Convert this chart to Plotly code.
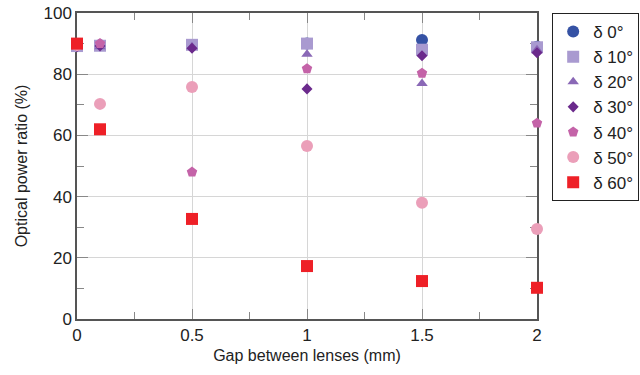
import plotly.graph_objects as go

# Gap between the lenses (mm)
gap_mm = [0, 0.1, 0.5, 1, 1.5, 2]

# Optical power ratio (%) for each tilt angle delta
ratio_d0 = [89.5, 89.5, 89.5, 90.0, 91.2, 89.0]
ratio_d10 = [89.2, 89.3, 89.6, 90.0, 88.0, 88.8]
ratio_d20 = [89.0, 89.0, 89.0, 86.5, 77.0, 88.0]
ratio_d30 = [89.0, 89.2, 88.5, 75.2, 86.0, 87.0]
ratio_d40 = [89.5, 90.0, 48.0, 81.8, 80.3, 64.0]
ratio_d50 = [89.5, 70.3, 75.8, 56.5, 38.0, 29.4]
ratio_d60 = [90.0, 62.0, 32.7, 17.3, 12.4, 10.2]

series_names = ["δ 0°", "δ 10°", "δ 20°", "δ 30°", "δ 40°", "δ 50°", "δ 60°"]
series_values = [ratio_d0, ratio_d10, ratio_d20, ratio_d30, ratio_d40, ratio_d50, ratio_d60]
series_colors = ["#3552a4", "#a99ad0", "#8a68b6", "#6b2a8c", "#c463a8", "#eb9fb9", "#ee2027"]
series_symbols = ["circle", "square", "triangle-up", "diamond", "pentagon", "circle", "square"]
series_sizes = [12, 12, 10, 8.5, 11, 12, 12]

FONT = "Liberation Sans, Arial, sans-serif"

fig = go.Figure()
for name, vals, color, sym, size in zip(series_names, series_values, series_colors,
                                         series_symbols, series_sizes):
    fig.add_trace(go.Scatter(
        x=gap_mm, y=vals, name=name, mode="markers", cliponaxis=False,
        marker=dict(symbol=sym, size=size, color=color, line=dict(width=0)),
    ))

axis_common = dict(
    showline=True, linecolor="#555555", linewidth=1.5, mirror="allticks",
    ticks="inside", tickcolor="#888888", tickwidth=1.2,
    showgrid=True, gridcolor="#d6d6d6", gridwidth=1,
    zeroline=False, layer="below traces",
    tickfont=dict(family=FONT, size=17, color="#222222"),
    title_font=dict(family=FONT, size=16, color="#222222"),
)

fig.update_xaxes(
    range=[0, 2], tickvals=[0, 0.5, 1, 1.5, 2], ticktext=["0", "0.5", "1", "1.5", "2"],
    ticklen=10, minor=dict(dtick=0.25, ticks="inside", ticklen=7, tickcolor="#888888", showgrid=False),
    title_text="Gap between lenses (mm)", title_standoff=6,
    **axis_common,
)
fig.update_yaxes(
    range=[0, 100], tickvals=[0, 20, 40, 60, 80, 100],
    ticklen=11, minor=dict(dtick=10, ticks="inside", ticklen=7, tickcolor="#888888", showgrid=False),
    title_text="Optical power ratio (%)", title_standoff=12,
    **axis_common,
)

fig.update_layout(
    width=640, height=375,
    margin=dict(l=77, r=103, t=13, b=56, autoexpand=False),
    plot_bgcolor="white", paper_bgcolor="white",
    legend=dict(
        x=1.033, y=1.0, xanchor="left", yanchor="top",
        bordercolor="#222222", borderwidth=1,
        font=dict(family=FONT, size=17, color="#222222"),
        tracegroupgap=0, itemwidth=30,
    ),
)

fig.write_html("out.html")
